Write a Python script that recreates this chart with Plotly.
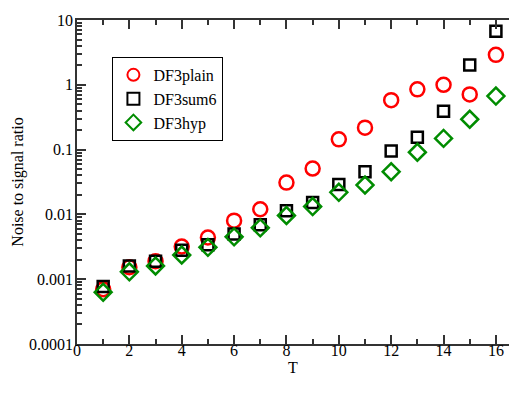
import plotly.graph_objects as go

# Noise-to-signal ratio vs T
T = list(range(1, 17))
df3plain = [0.0007, 0.00153, 0.0019, 0.0032, 0.0044, 0.008, 0.012, 0.031,
            0.051, 0.144, 0.218, 0.58, 0.85, 1.0, 0.71, 2.9]
df3sum6 = [0.00077, 0.0016, 0.0019, 0.0028, 0.0034, 0.005, 0.0069, 0.0114,
           0.0152, 0.029, 0.0456, 0.095, 0.155, 0.39, 2.02, 6.7]
df3hyp = [0.00063, 0.0013, 0.0016, 0.00236, 0.0031, 0.0045, 0.0062, 0.0096,
          0.0132, 0.0219, 0.0284, 0.0456, 0.091, 0.149, 0.294, 0.67]

y_major = [0.0001, 0.001, 0.01, 0.1, 1, 10]
y_labels = ["0.0001", "0.001", "0.01", "0.1", "1", "10"]
y_minor = [k * 10 ** e for e in range(-4, 1) for k in range(2, 10)]

serif = "Liberation Serif"

fig = go.Figure()
fig.add_trace(go.Scatter(
    x=T, y=df3plain, mode="markers", name="DF3plain",
    marker=dict(symbol="circle-open", size=14, color="#ff0000", line=dict(width=2.5))
))
fig.add_trace(go.Scatter(
    x=T, y=df3sum6, mode="markers", name="DF3sum6",
    marker=dict(symbol="square-open", size=11, color="#000000", line=dict(width=2.5))
))
fig.add_trace(go.Scatter(
    x=T, y=df3hyp, mode="markers", name="DF3hyp",
    marker=dict(symbol="diamond-open", size=13, color="#008c00", line=dict(width=2.5))
))

fig.update_layout(
    width=509, height=393,
    margin=dict(l=77, r=0, t=20, b=49),
    plot_bgcolor="#FFFFFF",
    paper_bgcolor="#FFFFFF",
    font=dict(family=serif, size=16, color="#000000"),
    showlegend=True,
    legend=dict(
        x=0.082, y=0.886, xanchor="left", yanchor="top",
        bgcolor="#FFFFFF", bordercolor="#000000", borderwidth=1,
        font=dict(family=serif, size=16), tracegroupgap=0,
        itemsizing="constant", itemwidth=30,
    ),
    xaxis=dict(
        range=[0, 16.5], tick0=0, dtick=2, automargin=False,
        ticks="inside", ticklen=9, tickwidth=1.5, tickcolor="#333333",
        ticklabelstandoff=-9,
        showline=True, linecolor="#333333", linewidth=1.5, mirror="ticks",
        showgrid=False, zeroline=False,
        minor=dict(dtick=1, ticks="inside", ticklen=5, tickwidth=1.5, tickcolor="#333333"),
        title=dict(text="T", standoff=0, font=dict(family=serif, size=16)),
        tickfont=dict(family=serif, size=16),
    ),
    yaxis=dict(
        type="log", range=[-4, 1], automargin=False,
        tickvals=y_major, ticktext=y_labels,
        ticks="inside", ticklen=9, tickwidth=1.5, tickcolor="#333333",
        ticklabelstandoff=-1,
        showline=True, linecolor="#333333", linewidth=1.5, mirror=False,
        showgrid=False, zeroline=False,
        minor=dict(tickvals=y_minor, ticks="inside", ticklen=5, tickwidth=1.5, tickcolor="#333333"),
        title=dict(text="Noise to signal ratio", standoff=1, font=dict(family=serif, size=16)),
        tickfont=dict(family=serif, size=16),
    ),
)

# drop the default body margin so the figure fills the window exactly
fig.write_html("out.html", config={"displayModeBar": False},
               post_script="document.body.style.margin='0';")
